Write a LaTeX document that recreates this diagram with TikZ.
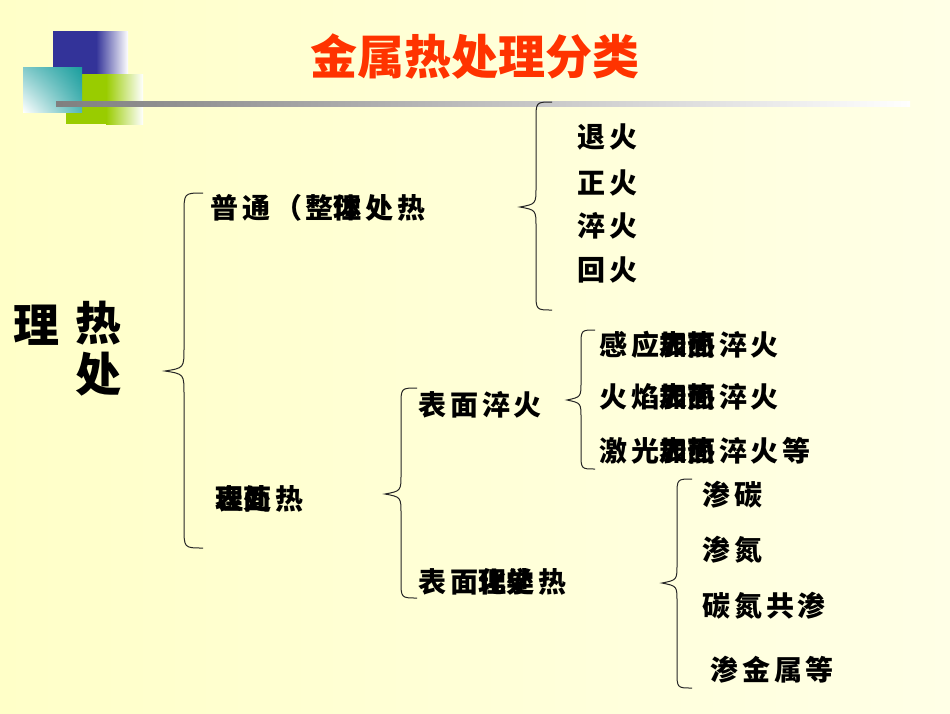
\documentclass[tikz,border=0pt]{standalone}
\usepackage{fontspec}
\newfontfamily\cjk[LetterSpace=14]{Noto Sans CJK SC}
\newfontfamily\cjktitle{Noto Sans CJK SC}
\usetikzlibrary{positioning,shadings}

\definecolor{bgL}{HTML}{FFFFC8}
\definecolor{bgR}{HTML}{FFFFE6}
\definecolor{blk}{HTML}{333399}
\definecolor{grn}{HTML}{99CC00}
\definecolor{tea}{HTML}{1A9E9E}
\definecolor{ttlred}{HTML}{FF3300}

\tikzset{
  item/.style={anchor=west, inner sep=0pt, text=black,
    font=\cjk\bfseries\fontsize{28}{30}\selectfont},
  big/.style={anchor=west, inner sep=0pt, text=black,
    font=\cjktitle\bfseries\fontsize{46}{48}\selectfont},
  ttl/.style={inner sep=0pt, text=ttlred,
    font=\cjktitle\bfseries\fontsize{47}{49}\selectfont},
  brc/.style={draw=black!85, line width=1pt}
}

% left curly brace: stem x, top y, tip y, bottom y, half width
\newcommand{\curlyL}[5]{%
  \draw[brc] (#1+#5,#2) .. controls (#1,#2) .. (#1,#2+#5+2)
    -- (#1,#3-#5-4) .. controls (#1,#3-3) .. (#1-#5,#3)
    .. controls (#1,#3+3) .. (#1,#3+#5+4)
    -- (#1,#4-#5-2) .. controls (#1,#4) .. (#1+#5,#4);}
% one glyph printed over the next
\newcommand{\ovr}[1]{\makebox[0pt][l]{#1}}

\begin{document}
\begin{tikzpicture}[x=1pt,y=-1pt]
\useasboundingbox (0,0) rectangle (950,713);
% background
\shade[left color=bgL, right color=bgR] (0,0) rectangle (950,713);

% corner blocks
\fill[blk] (53,31) rectangle (96,100);
\shade[left color=blk, right color=white] (96,31) rectangle (128,100);
\fill[grn] (66,74) rectangle (106,124);
\shade[left color=grn, right color=white] (106,74) rectangle (143,124);
\shade[upper right=tea, lower left=white, upper left=tea!55!white,
  lower right=tea!75!white] (23,67) rectangle (82,112);
\shade[left color=gray, right color=white] (56,101) rectangle (910,106);

% title
\node[ttl] (title) at (475,57) {金属热处理分类};

% root
\node[big] (li) at (13,325) {理};
\node[big] (re) at (75,323) {热};
\node[big] (chu) at (75,374) {处};

% first level
\node[item] (putong) at (210,208) {普通（整\ovr{理}体处热};
\node[item] (biaomian) at (215,499) {\ovr{理}表\ovr{处}面热};

% normal heat treatment
\node[item] (tuihuo) at (577,137) {退火};
\node[item] (zhenghuo) at (577,183) {正火};
\node[item] (cuihuo) at (577,226) {淬火};
\node[item] (huihuo) at (577,270) {回火};

% surface
\node[item] (bmcui) at (418,405) {表面淬火};
\node[item] (bmhua) at (418,582) {表面\ovr{理}化\ovr{处}学热};

\node[item] (ganying) at (599,345) {感应\ovr{加}表\ovr{热}面淬火};
\node[item] (huoyan) at (599,397) {火焰\ovr{加}表\ovr{热}面淬火};
\node[item] (jiguang) at (599,451) {激光\ovr{加}表\ovr{热}面淬火等};

\node[item] (shentan) at (702,495) {渗碳};
\node[item] (shendan) at (702,550) {渗氮};
\node[item] (tandan) at (702,606) {碳氮共渗};
\node[item] (shenjin) at (710,670) {渗金属等};

% braces
\curlyL{184}{193}{371}{548}{19}
\curlyL{536}{102}{207}{310}{16}
\curlyL{581}{330}{400}{469}{14}
\curlyL{401}{388}{494}{598}{16}
\curlyL{677}{479}{583}{688}{15}
\end{tikzpicture}
\end{document}
